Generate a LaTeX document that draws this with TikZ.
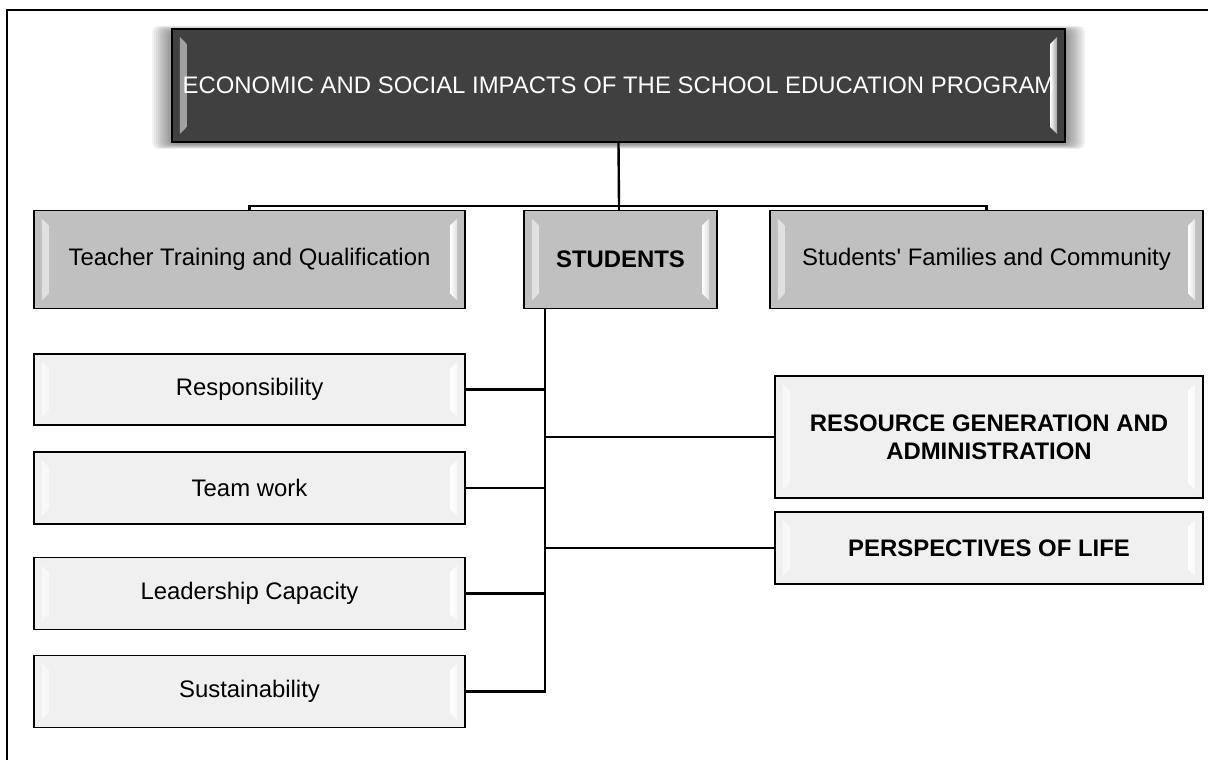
\documentclass[tikz,border=0pt]{standalone}
\usepackage{fontspec}
\setmainfont{Liberation Sans}

\definecolor{darkbox}{HTML}{404040}
\definecolor{midbox}{HTML}{C0C0C0}
\definecolor{lightbox}{HTML}{F0F0F0}

\tikzset{
	box/.style={fill=#1, draw=black, line width=1.3pt, inner sep=0pt, align=center,
		font=\fontsize{17}{19.8}\selectfont,
		path picture={
			% bevel strips on the left and right side
			\shade[left color=#1!50!white, right color=white, draw=none]
				([xshift=0.2cm,yshift=-0.2cm]path picture bounding box.north west)
				-- ([xshift=0.375cm,yshift=-0.375cm]path picture bounding box.north west)
				-- ([xshift=0.375cm,yshift=0.375cm]path picture bounding box.south west)
				-- ([xshift=0.2cm,yshift=0.2cm]path picture bounding box.south west) -- cycle;
			\shade[left color=white, right color=#1!50!white, draw=none]
				([xshift=-0.2cm,yshift=-0.2cm]path picture bounding box.north east)
				-- ([xshift=-0.375cm,yshift=-0.375cm]path picture bounding box.north east)
				-- ([xshift=-0.375cm,yshift=0.375cm]path picture bounding box.south east)
				-- ([xshift=-0.2cm,yshift=0.2cm]path picture bounding box.south east) -- cycle;
		}},
	link/.style={draw=black, line width=1.7pt}
}

\begin{document}
\begin{tikzpicture}[x=0.025cm, y=-0.025cm]
			\useasboundingbox (0,0) rectangle (1208,760);
			\draw[line width=1pt] (7,760) -- (7,10) -- (1208,10);
			
			% soft shadow behind the title
			\foreach \d in {2,4,...,20}
				\fill[black, opacity=0.05, rounded corners=4pt] (172-\d,29-\d/4+2) rectangle (1065+\d,142+\d/4+2);
			
			\node[box=darkbox, text=white, minimum width=22.325cm, minimum height=2.825cm] (title) at (618.5,85.5){ECONOMIC AND SOCIAL IMPACTS OF THE SCHOOL EDUCATION PROGRAM};
			
			\node[box=midbox, minimum width=10.775cm, minimum height=2.45cm] (teacher) at (249.5,259.5){Teacher Training and Qualification};
			\node[box=midbox, minimum width=4.825cm, minimum height=2.45cm, font=\fontsize{17}{19.8}\selectfont\bfseries] (students) at (620.5,259.5){STUDENTS};
			\node[box=midbox, minimum width=10.825cm, minimum height=2.45cm] (families) at (986.5,259.5){Students\textquotesingle{} Families and Community};
			
			\node[box=lightbox, minimum width=10.775cm, minimum height=1.775cm] (resp) at (249.5,389.5){Responsibility};
			\node[box=lightbox, minimum width=10.775cm, minimum height=1.8cm] (team) at (249.5,488){Team work};
			\node[box=lightbox, minimum width=10.775cm, minimum height=1.8cm] (lead) at (249.5,593.5){Leadership Capacity};
			\node[box=lightbox, minimum width=10.775cm, minimum height=1.8cm] (sust) at (249.5,691.5){Sustainability};
			
			\node[box=lightbox, minimum width=10.7cm, minimum height=3.05cm, font=\fontsize{17}{19.8}\selectfont\bfseries] (resource) at (989,437){RESOURCE GENERATION AND\\ADMINISTRATION};
			\node[box=lightbox, minimum width=10.7cm, minimum height=1.8cm, font=\fontsize{17}{19.8}\selectfont\bfseries] (persp) at (989,548){PERSPECTIVES OF LIFE};
			
			\coordinate (bus) at (619,206);
			\coordinate (trunk) at (545,308.5);
			
			\path[link] (title.south) -- (bus);
			\path[link] (bus) -- (bus |- students.north);
			\path[link] (teacher.north) |- (bus) -| (families.north);
			
			\path[link] (trunk) |- (sust.east);
			\foreach \n in {resp,team,lead}
				\path[link] (\n.east) -- (\n.east -| trunk);
			\path[link] (resource.west) -- (resource.west -| trunk);
			\path[link] (persp.west) -- (persp.west -| trunk);
\end{tikzpicture}
\end{document}
